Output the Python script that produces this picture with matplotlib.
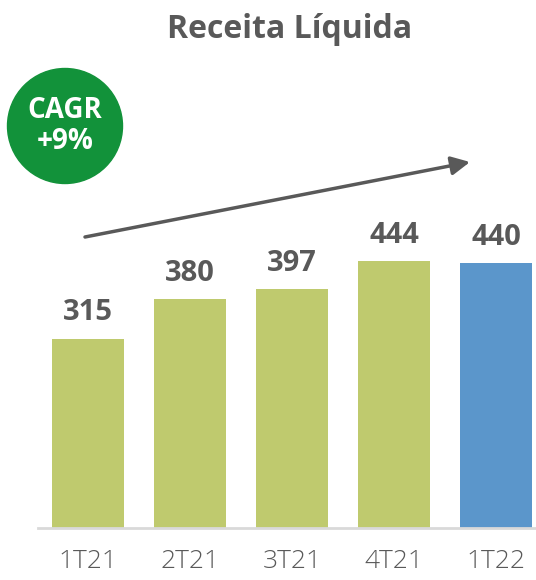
import matplotlib
matplotlib.use("Agg")
import matplotlib.pyplot as plt
from matplotlib.patches import Ellipse

categories = ["1T21", "2T21", "3T21", "4T21", "1T22"]
values = [315, 380, 397, 444, 440]
colors = ["#BFCA6E", "#BFCA6E", "#BFCA6E", "#BFCA6E", "#5B96CB"]
title = "Receita Líquida"
cagr_text = "CAGR\n+9%"

W, H = 536, 580
plt.rcParams['font.family'] = ['Open Sans', 'DejaVu Sans']

fig = plt.figure(figsize=(W / 100, H / 100), dpi=100)

# eixo: linha de base em y=528px, de x=38 a 536
ax = fig.add_axes([38 / W, (H - 528) / H, (536 - 38) / W, 428 / H])
x = list(range(len(categories)))
ax.bar(x, values, width=0.706, color=colors, zorder=2)
ax.set_xlim(-0.49, 4.39)
ax.set_ylim(0, 428 / 0.6014)

for xi, v in zip(x, values):
    ax.text(xi, v + 19, str(v), ha='center', va='bottom', fontsize=21,
            fontweight='bold', color='#595959')

ax.set_xticks(x)
ax.set_xticklabels(categories, fontsize=19, color='#595959', fontweight='light')
ax.tick_params(axis='x', length=0, pad=15)
ax.set_yticks([])
for s in ['top', 'right', 'left']:
    ax.spines[s].set_visible(False)
ax.spines['bottom'].set_color('#D9D9D9')
ax.spines['bottom'].set_linewidth(2)

fig.text(290 / W, 1 - 29 / H, title, ha='center', va='center', fontsize=23,
         fontweight='bold', color='#595959')

# seta de tendência
ax_arrow = fig.add_axes([0, 0, 1, 1], facecolor='none')
ax_arrow.set_xlim(0, W)
ax_arrow.set_ylim(H, 0)
ax_arrow.axis('off')
ax_arrow.annotate('', xy=(470, 162), xytext=(85, 237),
                  arrowprops=dict(arrowstyle='-|>', color='#595959', lw=2.5,
                                  mutation_scale=28, shrinkA=0, shrinkB=0))

# círculo CAGR
ax_arrow.add_patch(Ellipse((65, 126), 115, 115, color='#12923A'))
ax_arrow.text(65, 126, cagr_text, ha='center', va='center', fontsize=20,
              fontweight='bold', color='white', linespacing=1.1)

fig.savefig("out.png", dpi=100)
